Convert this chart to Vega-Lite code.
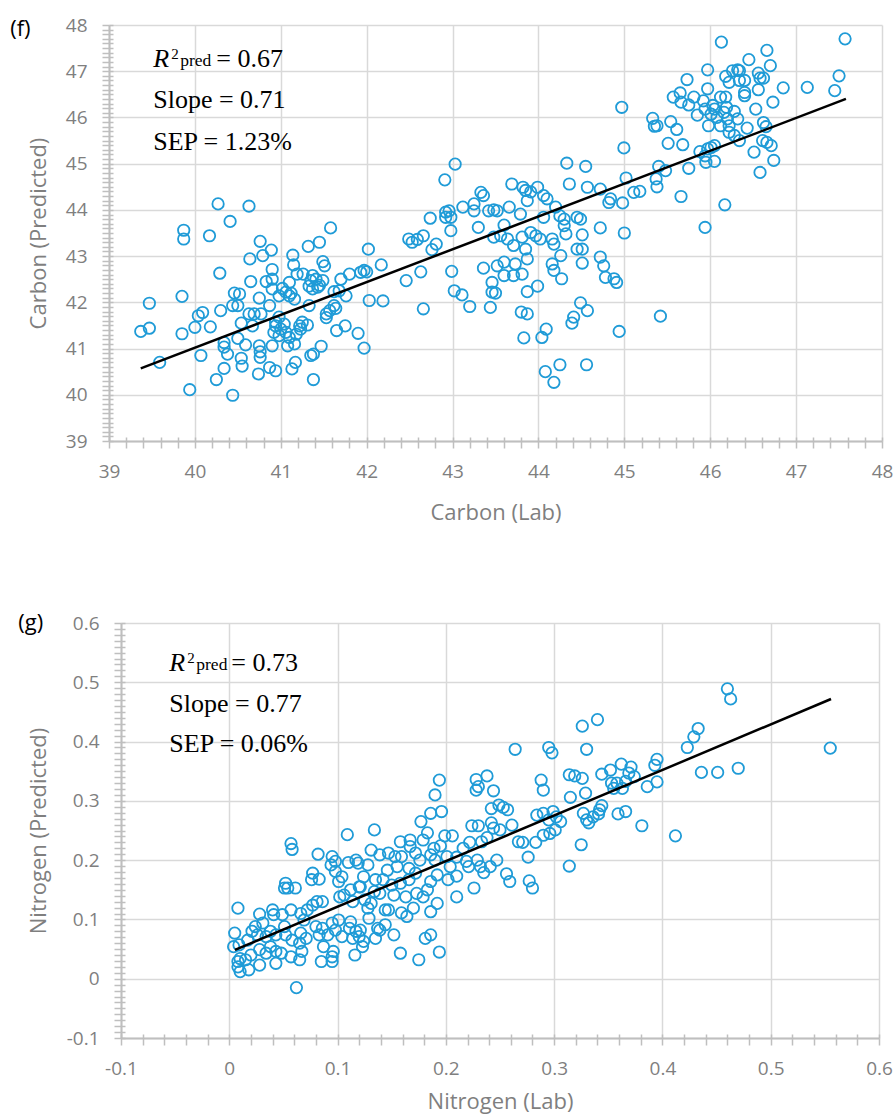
{
  "$schema": "https://vega.github.io/schema/vega-lite/v6.json",
  "padding": {"left": 10, "top": 16, "right": 0, "bottom": 12},
  "spacing": 89,
  "config": {
    "view": {"stroke": null},
    "axis": {
      "labelFont": "Open Sans", "labelColor": "#7f7f7f", "labelFontSize": 19,
      "titleFont": "Open Sans", "titleColor": "#7f7f7f", "titleFontSize": 22, "titleFontWeight": "normal",
      "gridColor": "#d9d9d9", "gridWidth": 1.5,
      "domainColor": "#bfbfbf", "domainWidth": 2,
      "tickColor": "#bfbfbf", "tickWidth": 1.5,
      "labelFlush": false, "labelOverlap": false
    }
  },
  "datasets": {
    "carbon": [
      {"lab":40.27,"pred":44.13},{"lab":40.63,"pred":44.08},{"lab":40.41,"pred":43.75},{"lab":39.87,"pred":43.56},{"lab":39.87,"pred":43.37},{"lab":40.17,"pred":43.44},{"lab":41.58,"pred":43.61},{"lab":40.76,"pred":43.32},{"lab":40.89,"pred":43.13},{"lab":40.79,"pred":43.01},{"lab":40.64,"pred":42.94},{"lab":41.32,"pred":43.21},{"lab":41.45,"pred":43.3},{"lab":41.14,"pred":43.02},{"lab":41.15,"pred":42.81},{"lab":41.19,"pred":42.61},{"lab":40.9,"pred":42.71},{"lab":40.9,"pred":42.5},{"lab":40.83,"pred":42.45},{"lab":40.65,"pred":42.45},{"lab":40.29,"pred":42.63},{"lab":41.49,"pred":42.88},{"lab":41.51,"pred":42.79},{"lab":41.41,"pred":42.5},{"lab":41.37,"pred":42.58},{"lab":41.45,"pred":42.37},{"lab":41.33,"pred":42.35},{"lab":41.1,"pred":42.43},{"lab":41.02,"pred":42.3},{"lab":41.1,"pred":42.14},{"lab":40.98,"pred":42.14},{"lab":41.06,"pred":42.22},{"lab":40.9,"pred":42.29},{"lab":40.75,"pred":42.09},{"lab":40.87,"pred":41.93},{"lab":40.46,"pred":42.2},{"lab":40.52,"pred":42.18},{"lab":40.44,"pred":41.93},{"lab":40.5,"pred":41.93},{"lab":40.3,"pred":41.82},{"lab":40.04,"pred":41.71},{"lab":40.09,"pred":41.78},{"lab":40.0,"pred":41.46},{"lab":40.18,"pred":41.47},{"lab":39.85,"pred":42.13},{"lab":39.85,"pred":41.32},{"lab":39.47,"pred":41.98},{"lab":39.37,"pred":41.37},{"lab":39.47,"pred":41.44},{"lab":39.59,"pred":40.7},{"lab":39.94,"pred":40.11},{"lab":40.44,"pred":39.99},{"lab":40.25,"pred":40.33},{"lab":40.07,"pred":40.85},{"lab":40.34,"pred":40.57},{"lab":40.55,"pred":40.62},{"lab":40.54,"pred":40.79},{"lab":40.34,"pred":41.13},{"lab":40.34,"pred":41.03},{"lab":40.38,"pred":40.88},{"lab":40.5,"pred":41.22},{"lab":40.59,"pred":41.08},{"lab":40.54,"pred":41.55},{"lab":40.63,"pred":41.75},{"lab":40.69,"pred":41.75},{"lab":40.77,"pred":41.75},{"lab":40.67,"pred":41.49},{"lab":40.75,"pred":41.06},{"lab":40.76,"pred":40.93},{"lab":40.76,"pred":40.81},{"lab":40.74,"pred":40.45},{"lab":40.87,"pred":40.59},{"lab":40.94,"pred":40.52},{"lab":40.9,"pred":41.06},{"lab":40.94,"pred":41.49},{"lab":40.92,"pred":41.35},{"lab":41.0,"pred":41.42},{"lab":40.98,"pred":41.28},{"lab":41.04,"pred":41.53},{"lab":41.06,"pred":41.35},{"lab":41.1,"pred":41.24},{"lab":41.08,"pred":41.06},{"lab":41.16,"pred":41.1},{"lab":41.18,"pred":41.31},{"lab":41.22,"pred":41.49},{"lab":41.23,"pred":41.42},{"lab":41.25,"pred":41.57},{"lab":41.31,"pred":41.51},{"lab":41.33,"pred":41.93},{"lab":41.13,"pred":40.56},{"lab":41.17,"pred":40.7},{"lab":41.35,"pred":40.85},{"lab":41.38,"pred":40.88},{"lab":41.38,"pred":40.33},{"lab":41.47,"pred":41.05},{"lab":41.53,"pred":41.75},{"lab":41.53,"pred":41.67},{"lab":41.57,"pred":41.82},{"lab":41.62,"pred":41.93},{"lab":41.64,"pred":41.87},{"lab":41.65,"pred":41.39},{"lab":41.75,"pred":41.49},{"lab":41.9,"pred":41.33},{"lab":41.97,"pred":41.01},{"lab":41.62,"pred":42.23},{"lab":41.7,"pred":42.5},{"lab":41.68,"pred":42.25},{"lab":41.76,"pred":42.14},{"lab":41.8,"pred":42.61},{"lab":41.93,"pred":42.65},{"lab":41.97,"pred":42.69},{"lab":42.02,"pred":43.15},{"lab":42.03,"pred":42.04},{"lab":41.35,"pred":42.47},{"lab":41.37,"pred":42.29},{"lab":41.43,"pred":42.33},{"lab":41.49,"pred":42.47},{"lab":41.26,"pred":42.61},{"lab":41.12,"pred":42.2},{"lab":41.16,"pred":42.07},{"lab":40.94,"pred":41.57},{"lab":40.98,"pred":41.68},
      {"lab":43.03,"pred":44.99},{"lab":42.91,"pred":44.65},{"lab":42.74,"pred":43.82},{"lab":42.92,"pred":43.95},{"lab":42.96,"pred":43.98},{"lab":42.98,"pred":43.84},{"lab":42.92,"pred":43.84},{"lab":42.98,"pred":43.55},{"lab":42.49,"pred":43.37},{"lab":42.53,"pred":43.3},{"lab":42.59,"pred":43.36},{"lab":42.66,"pred":43.44},{"lab":42.81,"pred":43.26},{"lab":42.76,"pred":43.14},{"lab":42.17,"pred":42.81},{"lab":42.0,"pred":42.66},{"lab":42.19,"pred":42.03},{"lab":42.46,"pred":42.47},{"lab":42.63,"pred":42.66},{"lab":42.66,"pred":41.86},{"lab":42.99,"pred":42.67},{"lab":43.02,"pred":42.25},{"lab":43.11,"pred":42.16},{"lab":43.2,"pred":41.91},{"lab":43.12,"pred":44.06},{"lab":43.25,"pred":44.13},{"lab":43.25,"pred":43.98},{"lab":43.33,"pred":44.38},{"lab":43.36,"pred":44.31},{"lab":43.42,"pred":43.98},{"lab":43.48,"pred":44.0},{"lab":43.52,"pred":43.98},{"lab":43.66,"pred":44.06},{"lab":43.69,"pred":44.56},{"lab":43.82,"pred":44.49},{"lab":43.85,"pred":44.42},{"lab":43.91,"pred":44.39},{"lab":43.99,"pred":44.49},{"lab":44.06,"pred":44.31},{"lab":44.1,"pred":44.24},{"lab":44.33,"pred":45.01},{"lab":44.36,"pred":44.56},{"lab":44.55,"pred":44.94},{"lab":44.57,"pred":44.49},{"lab":43.87,"pred":44.2},{"lab":43.79,"pred":43.91},{"lab":44.06,"pred":43.84},{"lab":44.2,"pred":44.06},{"lab":44.25,"pred":43.87},{"lab":44.3,"pred":43.8},{"lab":44.45,"pred":43.84},{"lab":44.49,"pred":43.8},{"lab":44.3,"pred":43.66},{"lab":44.32,"pred":43.48},{"lab":43.3,"pred":43.62},{"lab":43.6,"pred":43.67},{"lab":43.48,"pred":43.41},{"lab":43.56,"pred":43.44},{"lab":43.64,"pred":43.37},{"lab":43.71,"pred":43.23},{"lab":43.81,"pred":43.41},{"lab":43.91,"pred":43.51},{"lab":43.97,"pred":43.44},{"lab":44.02,"pred":43.37},{"lab":44.16,"pred":43.37},{"lab":44.18,"pred":43.26},{"lab":44.26,"pred":43.01},{"lab":43.85,"pred":43.15},{"lab":43.87,"pred":42.94},{"lab":43.36,"pred":42.74},{"lab":43.52,"pred":42.79},{"lab":43.6,"pred":42.87},{"lab":43.73,"pred":42.83},{"lab":43.71,"pred":42.58},{"lab":43.81,"pred":42.61},{"lab":43.6,"pred":42.58},{"lab":43.46,"pred":42.43},{"lab":43.46,"pred":42.22},{"lab":43.5,"pred":42.2},{"lab":43.44,"pred":41.89},{"lab":43.87,"pred":42.23},{"lab":43.99,"pred":42.35},{"lab":44.16,"pred":42.83},{"lab":44.18,"pred":42.69},{"lab":44.27,"pred":42.51},{"lab":44.51,"pred":42.85},{"lab":44.51,"pred":43.15},{"lab":44.45,"pred":43.15},{"lab":44.51,"pred":43.46},{"lab":43.8,"pred":41.79},{"lab":43.87,"pred":41.75},{"lab":43.83,"pred":41.23},{"lab":44.09,"pred":41.42},{"lab":44.04,"pred":41.24},{"lab":44.49,"pred":41.99},{"lab":44.39,"pred":41.55},{"lab":44.41,"pred":41.68},{"lab":44.08,"pred":40.5},{"lab":44.18,"pred":40.27},{"lab":44.25,"pred":40.65},{"lab":44.56,"pred":40.65},{"lab":44.57,"pred":41.82},
      {"lab":44.97,"pred":46.22},{"lab":44.995,"pred":45.34},{"lab":45.02,"pred":44.69},{"lab":45.11,"pred":44.38},{"lab":45.18,"pred":44.4},{"lab":44.98,"pred":44.15},{"lab":45.0,"pred":43.5},{"lab":44.82,"pred":44.16},{"lab":44.84,"pred":44.24},{"lab":44.72,"pred":44.45},{"lab":44.72,"pred":43.61},{"lab":44.72,"pred":42.98},{"lab":44.76,"pred":42.79},{"lab":44.78,"pred":42.54},{"lab":44.88,"pred":42.51},{"lab":44.91,"pred":42.43},{"lab":44.94,"pred":41.37},{"lab":45.42,"pred":41.7},{"lab":45.38,"pred":44.5},{"lab":45.37,"pred":44.67},{"lab":45.4,"pred":44.94},{"lab":45.48,"pred":44.85},{"lab":45.66,"pred":44.29},{"lab":45.75,"pred":44.9},{"lab":45.51,"pred":45.44},{"lab":45.68,"pred":45.41},{"lab":45.33,"pred":45.98},{"lab":45.35,"pred":45.81},{"lab":45.38,"pred":45.82},{"lab":45.54,"pred":45.91},{"lab":45.61,"pred":45.74},{"lab":45.57,"pred":46.44},{"lab":45.65,"pred":46.53},{"lab":45.73,"pred":46.82},{"lab":45.66,"pred":46.33},{"lab":45.75,"pred":46.27},{"lab":45.81,"pred":46.44},{"lab":45.85,"pred":46.05},{"lab":45.88,"pred":45.26},{"lab":45.94,"pred":43.62},{"lab":45.92,"pred":46.36},{"lab":45.97,"pred":46.62},{"lab":45.97,"pred":47.03},{"lab":45.94,"pred":46.18},{"lab":45.98,"pred":45.82},{"lab":46.01,"pred":46.07},{"lab":46.05,"pred":46.18},{"lab":46.08,"pred":46.0},{"lab":46.03,"pred":46.26},{"lab":45.97,"pred":45.32},{"lab":46.01,"pred":45.35},{"lab":45.95,"pred":45.03},{"lab":46.05,"pred":45.05},{"lab":45.94,"pred":45.17},{"lab":46.05,"pred":45.39},{"lab":46.13,"pred":47.63},{"lab":46.17,"pred":44.11},{"lab":46.18,"pred":46.89},{"lab":46.22,"pred":46.76},{"lab":46.18,"pred":46.44},{"lab":46.19,"pred":46.22},{"lab":46.16,"pred":46.11},{"lab":46.2,"pred":45.97},{"lab":46.22,"pred":45.82},{"lab":46.22,"pred":45.68},{"lab":46.28,"pred":46.13},{"lab":46.26,"pred":47.01},{"lab":46.32,"pred":47.03},{"lab":46.34,"pred":47.01},{"lab":46.34,"pred":46.8},{"lab":46.4,"pred":46.8},{"lab":46.4,"pred":46.47},{"lab":46.4,"pred":46.54},{"lab":46.34,"pred":45.5},{"lab":46.43,"pred":45.77},{"lab":46.45,"pred":47.25},{"lab":46.53,"pred":46.18},{"lab":46.56,"pred":46.96},{"lab":46.58,"pred":46.85},{"lab":46.62,"pred":46.85},{"lab":46.56,"pred":46.6},{"lab":46.66,"pred":47.45},{"lab":46.7,"pred":47.12},{"lab":46.73,"pred":46.33},{"lab":46.62,"pred":45.89},{"lab":46.65,"pred":45.8},{"lab":46.61,"pred":45.5},{"lab":46.66,"pred":45.46},{"lab":46.71,"pred":45.39},{"lab":46.51,"pred":45.25},{"lab":46.74,"pred":45.07},{"lab":46.58,"pred":44.81},{"lab":46.85,"pred":46.64},{"lab":47.13,"pred":46.65},{"lab":47.45,"pred":46.58},{"lab":47.5,"pred":46.9},{"lab":47.57,"pred":47.7},{"lab":46.32,"pred":45.97},{"lab":46.12,"pred":46.44},{"lab":46.12,"pred":45.82},{"lab":46.28,"pred":45.61}
    ],
    "fitC": [{"lab":39.37,"pred":40.57},{"lab":47.58,"pred":46.4}],
    "nitrogen": [
      {"lab":0.109,"pred":0.243},{"lab":0.134,"pred":0.251},{"lab":0.057,"pred":0.228},{"lab":0.058,"pred":0.218},{"lab":0.082,"pred":0.21},{"lab":0.095,"pred":0.206},{"lab":0.098,"pred":0.198},{"lab":0.094,"pred":0.192},{"lab":0.11,"pred":0.196},{"lab":0.117,"pred":0.2},{"lab":0.119,"pred":0.195},{"lab":0.131,"pred":0.217},{"lab":0.128,"pred":0.192},{"lab":0.098,"pred":0.181},{"lab":0.101,"pred":0.164},{"lab":0.077,"pred":0.178},{"lab":0.076,"pred":0.167},{"lab":0.083,"pred":0.168},{"lab":0.052,"pred":0.161},{"lab":0.054,"pred":0.153},{"lab":0.051,"pred":0.153},{"lab":0.061,"pred":0.153},{"lab":0.106,"pred":0.141},{"lab":0.112,"pred":0.15},{"lab":0.12,"pred":0.155},{"lab":0.114,"pred":0.13},{"lab":0.125,"pred":0.133},{"lab":0.131,"pred":0.127},{"lab":0.128,"pred":0.119},{"lab":0.135,"pred":0.167},{"lab":0.134,"pred":0.147},{"lab":0.008,"pred":0.119},{"lab":0.005,"pred":0.077},{"lab":0.028,"pred":0.109},{"lab":0.04,"pred":0.116},{"lab":0.041,"pred":0.108},{"lab":0.057,"pred":0.116},{"lab":0.066,"pred":0.11},{"lab":0.072,"pred":0.116},{"lab":0.081,"pred":0.13},{"lab":0.086,"pred":0.13},{"lab":0.077,"pred":0.124},{"lab":0.069,"pred":0.099},{"lab":0.049,"pred":0.108},{"lab":0.024,"pred":0.088},{"lab":0.031,"pred":0.094},{"lab":0.021,"pred":0.08},{"lab":0.017,"pred":0.065},{"lab":0.009,"pred":0.057},{"lab":0.004,"pred":0.054},{"lab":0.026,"pred":0.074},{"lab":0.034,"pred":0.071},{"lab":0.038,"pred":0.08},{"lab":0.043,"pred":0.074},{"lab":0.051,"pred":0.088},{"lab":0.052,"pred":0.074},{"lab":0.058,"pred":0.065},{"lab":0.066,"pred":0.077},{"lab":0.071,"pred":0.068},{"lab":0.065,"pred":0.06},{"lab":0.08,"pred":0.088},{"lab":0.086,"pred":0.085},{"lab":0.095,"pred":0.094},{"lab":0.091,"pred":0.074},{"lab":0.083,"pred":0.074},{"lab":0.087,"pred":0.054},{"lab":0.098,"pred":0.082},{"lab":0.104,"pred":0.071},{"lab":0.111,"pred":0.085},{"lab":0.117,"pred":0.08},{"lab":0.114,"pred":0.068},{"lab":0.12,"pred":0.071},{"lab":0.124,"pred":0.063},{"lab":0.123,"pred":0.054},{"lab":0.116,"pred":0.04},{"lab":0.135,"pred":0.068},{"lab":0.137,"pred":0.085},{"lab":0.028,"pred":0.049},{"lab":0.034,"pred":0.043},{"lab":0.038,"pred":0.054},{"lab":0.043,"pred":0.046},{"lab":0.048,"pred":0.043},{"lab":0.043,"pred":0.026},{"lab":0.028,"pred":0.023},{"lab":0.02,"pred":0.04},{"lab":0.018,"pred":0.015},{"lab":0.01,"pred":0.012},{"lab":0.008,"pred":0.02},{"lab":0.008,"pred":0.029},{"lab":0.01,"pred":0.034},{"lab":0.015,"pred":0.032},{"lab":0.057,"pred":0.037},{"lab":0.065,"pred":0.032},{"lab":0.067,"pred":0.046},{"lab":0.085,"pred":0.029},{"lab":0.095,"pred":0.029},{"lab":0.095,"pred":0.037},{"lab":0.096,"pred":0.046},{"lab":0.062,"pred":-0.015},
      {"lab":0.326,"pred":0.426},{"lab":0.264,"pred":0.387},{"lab":0.295,"pred":0.39},{"lab":0.298,"pred":0.381},{"lab":0.33,"pred":0.387},{"lab":0.194,"pred":0.335},{"lab":0.19,"pred":0.31},{"lab":0.228,"pred":0.336},{"lab":0.238,"pred":0.342},{"lab":0.228,"pred":0.318},{"lab":0.23,"pred":0.324},{"lab":0.244,"pred":0.317},{"lab":0.288,"pred":0.335},{"lab":0.29,"pred":0.318},{"lab":0.314,"pred":0.344},{"lab":0.319,"pred":0.342},{"lab":0.326,"pred":0.338},{"lab":0.329,"pred":0.313},{"lab":0.315,"pred":0.306},{"lab":0.242,"pred":0.287},{"lab":0.249,"pred":0.293},{"lab":0.253,"pred":0.289},{"lab":0.257,"pred":0.285},{"lab":0.177,"pred":0.265},{"lab":0.186,"pred":0.279},{"lab":0.196,"pred":0.282},{"lab":0.183,"pred":0.246},{"lab":0.224,"pred":0.258},{"lab":0.23,"pred":0.258},{"lab":0.242,"pred":0.263},{"lab":0.244,"pred":0.254},{"lab":0.25,"pred":0.251},{"lab":0.261,"pred":0.259},{"lab":0.238,"pred":0.238},{"lab":0.233,"pred":0.231},{"lab":0.267,"pred":0.231},{"lab":0.271,"pred":0.23},{"lab":0.283,"pred":0.23},{"lab":0.284,"pred":0.276},{"lab":0.29,"pred":0.279},{"lab":0.295,"pred":0.268},{"lab":0.299,"pred":0.282},{"lab":0.302,"pred":0.273},{"lab":0.306,"pred":0.265},{"lab":0.296,"pred":0.245},{"lab":0.301,"pred":0.251},{"lab":0.29,"pred":0.242},{"lab":0.325,"pred":0.226},{"lab":0.327,"pred":0.279},{"lab":0.33,"pred":0.268},{"lab":0.276,"pred":0.205},{"lab":0.314,"pred":0.19},{"lab":0.256,"pred":0.177},{"lab":0.259,"pred":0.164},{"lab":0.277,"pred":0.165},{"lab":0.28,"pred":0.153},{"lab":0.199,"pred":0.241},{"lab":0.206,"pred":0.241},{"lab":0.189,"pred":0.22},{"lab":0.195,"pred":0.224},{"lab":0.216,"pred":0.22},{"lab":0.222,"pred":0.23},{"lab":0.21,"pred":0.205},{"lab":0.219,"pred":0.198},{"lab":0.229,"pred":0.2},{"lab":0.247,"pred":0.2},{"lab":0.241,"pred":0.189},{"lab":0.235,"pred":0.179},{"lab":0.226,"pred":0.153},{"lab":0.21,"pred":0.138},{"lab":0.201,"pred":0.206},{"lab":0.204,"pred":0.189},{"lab":0.21,"pred":0.173},{"lab":0.202,"pred":0.167},{"lab":0.192,"pred":0.175},{"lab":0.186,"pred":0.164},{"lab":0.183,"pred":0.15},{"lab":0.179,"pred":0.138},{"lab":0.192,"pred":0.127},{"lab":0.186,"pred":0.113},{"lab":0.17,"pred":0.119},{"lab":0.164,"pred":0.105},{"lab":0.159,"pred":0.111},{"lab":0.186,"pred":0.209},{"lab":0.19,"pred":0.2},{"lab":0.176,"pred":0.2},{"lab":0.172,"pred":0.212},{"lab":0.167,"pred":0.234},{"lab":0.158,"pred":0.231},{"lab":0.159,"pred":0.206},{"lab":0.153,"pred":0.206},{"lab":0.147,"pred":0.212},{"lab":0.139,"pred":0.209},{"lab":0.146,"pred":0.183},{"lab":0.155,"pred":0.189},{"lab":0.166,"pred":0.186},{"lab":0.172,"pred":0.178},{"lab":0.166,"pred":0.167},{"lab":0.158,"pred":0.161},{"lab":0.15,"pred":0.158},{"lab":0.142,"pred":0.167},{"lab":0.139,"pred":0.144},{"lab":0.152,"pred":0.141},{"lab":0.163,"pred":0.138},{"lab":0.173,"pred":0.144},{"lab":0.144,"pred":0.116},{"lab":0.147,"pred":0.116},{"lab":0.139,"pred":0.082},{"lab":0.144,"pred":0.091},{"lab":0.186,"pred":0.074},{"lab":0.181,"pred":0.068},{"lab":0.152,"pred":0.074},{"lab":0.167,"pred":0.223},{"lab":0.179,"pred":0.234},{"lab":0.221,"pred":0.189},{"lab":0.232,"pred":0.189},{"lab":0.129,"pred":0.102},{"lab":0.112,"pred":0.096},{"lab":0.101,"pred":0.099},{"lab":0.121,"pred":0.082},{"lab":0.104,"pred":0.172},{"lab":0.124,"pred":0.172},{"lab":0.121,"pred":0.155},{"lab":0.102,"pred":0.138},{"lab":0.158,"pred":0.043},{"lab":0.175,"pred":0.032},{"lab":0.194,"pred":0.045},
      {"lab":0.46,"pred":0.489},{"lab":0.463,"pred":0.472},{"lab":0.34,"pred":0.437},{"lab":0.433,"pred":0.422},{"lab":0.429,"pred":0.408},{"lab":0.423,"pred":0.39},{"lab":0.555,"pred":0.389},{"lab":0.395,"pred":0.37},{"lab":0.393,"pred":0.36},{"lab":0.395,"pred":0.332},{"lab":0.386,"pred":0.324},{"lab":0.362,"pred":0.362},{"lab":0.371,"pred":0.357},{"lab":0.352,"pred":0.352},{"lab":0.344,"pred":0.345},{"lab":0.374,"pred":0.341},{"lab":0.369,"pred":0.347},{"lab":0.366,"pred":0.333},{"lab":0.363,"pred":0.321},{"lab":0.358,"pred":0.33},{"lab":0.355,"pred":0.321},{"lab":0.353,"pred":0.33},{"lab":0.436,"pred":0.348},{"lab":0.451,"pred":0.348},{"lab":0.47,"pred":0.355},{"lab":0.344,"pred":0.292},{"lab":0.342,"pred":0.285},{"lab":0.341,"pred":0.278},{"lab":0.336,"pred":0.273},{"lab":0.332,"pred":0.263},{"lab":0.359,"pred":0.278},{"lab":0.366,"pred":0.282},{"lab":0.381,"pred":0.258},{"lab":0.412,"pred":0.241}
    ],
    "fitN": [{"lab":0.0052,"pred":0.0486},{"lab":0.5557,"pred":0.4718}]
  },
  "vconcat": [
    {
      "width": 773,
      "height": 416,
      "resolve": {"axis": {"x": "independent", "y": "independent"}},
      "layer": [
        {
          "data": {"name": "carbon"},
          "mark": {"type": "point", "shape": "circle", "filled": false, "stroke": "#1F9BD7", "strokeWidth": 1.8, "size": 130, "opacity": 1},
          "encoding": {
            "x": {"field": "lab", "type": "quantitative", "scale": {"domain": [39, 48], "nice": false, "zero": false},
              "axis": {"orient": "bottom", "values": [39,40,41,42,43,44,45,46,47,48], "grid": true, "ticks": false, "labelPadding": 21, "title": "Carbon (Lab)", "titlePadding": 21}},
            "y": {"field": "pred", "type": "quantitative", "scale": {"domain": [39, 48], "nice": false, "zero": false},
              "axis": {"orient": "left", "values": [39,40,41,42,43,44,45,46,47,48], "grid": true, "ticks": false, "labelPadding": 22, "title": "Carbon (Predicted)", "titlePadding": 15}}
          }
        },
        {
          "data": {"name": "fitC"},
          "mark": {"type": "line", "color": "#000000", "strokeWidth": 2.5},
          "encoding": {
            "x": {"field": "lab", "type": "quantitative",
              "axis": {"orient": "bottom", "values": [39,39.2,39.4,39.6,39.8,40,40.2,40.4,40.6,40.8,41,41.2,41.4,41.6,41.8,42,42.2,42.4,42.6,42.8,43,43.2,43.4,43.6,43.8,44,44.2,44.4,44.6,44.8,45,45.2,45.4,45.6,45.8,46,46.2,46.4,46.6,46.8,47,47.2,47.4,47.6,47.8,48], "grid": false, "domain": false, "labels": false, "ticks": true, "tickSize": 7, "title": null}},
            "y": {"field": "pred", "type": "quantitative",
              "axis": {"orient": "left", "values": [39,39.1,39.2,39.3,39.4,39.5,39.6,39.7,39.8,39.9,40,40.1,40.2,40.3,40.4,40.5,40.6,40.7,40.8,40.9,41,41.1,41.2,41.3,41.4,41.5,41.6,41.7,41.8,41.9,42,42.1,42.2,42.3,42.4,42.5,42.6,42.7,42.8,42.9,43,43.1,43.2,43.3,43.4,43.5,43.6,43.7,43.8,43.9,44,44.1,44.2,44.3,44.4,44.5,44.6,44.7,44.8,44.9,45,45.1,45.2,45.3,45.4,45.5,45.6,45.7,45.8,45.9,46,46.1,46.2,46.3,46.4,46.5,46.6,46.7,46.8,46.9,47,47.1,47.2,47.3,47.4,47.5,47.6,47.7,47.8,47.9,48], "grid": false, "domain": false, "labels": false, "ticks": true, "tickSize": 7, "title": null}}
          }
        },
        {
          "data": {"values": [{}]},
          "mark": {"type": "text", "text": "(f)", "font": "Open Sans", "fontSize": 22, "color": "#000000", "align": "left", "baseline": "middle"},
          "encoding": {
            "x": {"datum": 37.85, "type": "quantitative",
              "axis": {"orient": "bottom", "values": [39,39.2,39.4,39.6,39.8,40,40.2,40.4,40.6,40.8,41,41.2,41.4,41.6,41.8,42,42.2,42.4,42.6,42.8,43,43.2,43.4,43.6,43.8,44,44.2,44.4,44.6,44.8,45,45.2,45.4,45.6,45.8,46,46.2,46.4,46.6,46.8,47,47.2,47.4,47.6,47.8,48], "grid": false, "domain": false, "labels": false, "ticks": true, "tickSize": -4, "title": null}},
            "y": {"datum": 47.91, "type": "quantitative",
              "axis": {"orient": "left", "values": [39,39.1,39.2,39.3,39.4,39.5,39.6,39.7,39.8,39.9,40,40.1,40.2,40.3,40.4,40.5,40.6,40.7,40.8,40.9,41,41.1,41.2,41.3,41.4,41.5,41.6,41.7,41.8,41.9,42,42.1,42.2,42.3,42.4,42.5,42.6,42.7,42.8,42.9,43,43.1,43.2,43.3,43.4,43.5,43.6,43.7,43.8,43.9,44,44.1,44.2,44.3,44.4,44.5,44.6,44.7,44.8,44.9,45,45.1,45.2,45.3,45.4,45.5,45.6,45.7,45.8,45.9,46,46.1,46.2,46.3,46.4,46.5,46.6,46.7,46.8,46.9,47,47.1,47.2,47.3,47.4,47.5,47.6,47.7,47.8,47.9,48], "grid": false, "domain": false, "labels": false, "ticks": true, "tickSize": -4, "title": null}}
          }
        },
        {
          "data": {"values": [{}]},
          "mark": {"type": "text", "text": "R", "font": "Liberation Serif", "fontStyle": "italic", "fontSize": 26, "color": "#000000", "align": "left", "baseline": "alphabetic"},
          "encoding": {"x": {"datum": 39.515, "type": "quantitative", "axis": null}, "y": {"datum": 47.086, "type": "quantitative", "axis": null}}
        },
        {
          "data": {"values": [{}]},
          "mark": {"type": "text", "text": "2", "font": "Liberation Serif", "fontSize": 15, "color": "#000000", "align": "left", "baseline": "alphabetic", "dx": 18, "dy": -8},
          "encoding": {"x": {"datum": 39.515, "type": "quantitative", "axis": null}, "y": {"datum": 47.086, "type": "quantitative", "axis": null}}
        },
        {
          "data": {"values": [{}]},
          "mark": {"type": "text", "text": "pred", "font": "Liberation Serif", "fontSize": 17.5, "color": "#000000", "align": "left", "baseline": "alphabetic", "dx": 27, "dy": -1},
          "encoding": {"x": {"datum": 39.515, "type": "quantitative", "axis": null}, "y": {"datum": 47.086, "type": "quantitative", "axis": null}}
        },
        {
          "data": {"values": [{}]},
          "mark": {"type": "text", "text": "= 0.67", "font": "Liberation Serif", "fontSize": 26, "color": "#000000", "align": "left", "baseline": "alphabetic", "dx": 63},
          "encoding": {"x": {"datum": 39.515, "type": "quantitative", "axis": null}, "y": {"datum": 47.086, "type": "quantitative", "axis": null}}
        },
        {
          "data": {"values": [{}]},
          "mark": {"type": "text", "text": "Slope = 0.71", "font": "Liberation Serif", "fontSize": 26, "color": "#000000", "align": "left", "baseline": "alphabetic"},
          "encoding": {"x": {"datum": 39.515, "type": "quantitative", "axis": null}, "y": {"datum": 46.2, "type": "quantitative", "axis": null}}
        },
        {
          "data": {"values": [{}]},
          "mark": {"type": "text", "text": "SEP = 1.23%", "font": "Liberation Serif", "fontSize": 26, "color": "#000000", "align": "left", "baseline": "alphabetic"},
          "encoding": {"x": {"datum": 39.515, "type": "quantitative", "axis": null}, "y": {"datum": 45.305, "type": "quantitative", "axis": null}}
        }
      ]
    },
    {
      "width": 770,
      "height": 415,
      "resolve": {"axis": {"x": "independent", "y": "independent"}},
      "layer": [
        {
          "data": {"name": "nitrogen"},
          "mark": {"type": "point", "shape": "circle", "filled": false, "stroke": "#1F9BD7", "strokeWidth": 1.8, "size": 130, "opacity": 1},
          "encoding": {
            "x": {"field": "lab", "type": "quantitative", "scale": {"domain": [-0.1, 0.6], "range": [12, 770], "nice": false, "zero": false},
              "axis": {"orient": "bottom", "values": [-0.1,0,0.1,0.2,0.3,0.4,0.5,0.6], "format": "~g", "labelExpr": "replace(datum.label, '\u2212', '-')", "grid": true, "ticks": false, "labelPadding": 21, "title": "Nitrogen (Lab)", "titlePadding": 13}},
            "y": {"field": "pred", "type": "quantitative", "scale": {"domain": [-0.1, 0.6], "nice": false, "zero": false},
              "axis": {"orient": "left", "offset": -12, "values": [-0.1,0,0.1,0.2,0.3,0.4,0.5,0.6], "format": "~g", "labelExpr": "replace(datum.label, '\u2212', '-')", "grid": true, "ticks": false, "labelPadding": 22, "title": "Nitrogen (Predicted)", "titlePadding": 16}}
          }
        },
        {
          "data": {"name": "fitN"},
          "mark": {"type": "line", "color": "#000000", "strokeWidth": 2.5},
          "encoding": {
            "x": {"field": "lab", "type": "quantitative",
              "axis": {"orient": "bottom", "values": [-0.1,-0.08,-0.06,-0.04,-0.02,0,0.02,0.04,0.06,0.08,0.1,0.12,0.14,0.16,0.18,0.2,0.22,0.24,0.26,0.28,0.3,0.32,0.34,0.36,0.38,0.4,0.42,0.44,0.46,0.48,0.5,0.52,0.54,0.56,0.58,0.6], "grid": false, "domain": false, "labels": false, "ticks": true, "tickSize": 7, "title": null}},
            "y": {"field": "pred", "type": "quantitative",
              "axis": {"orient": "left", "offset": -12, "values": [-0.1,-0.09,-0.08,-0.07,-0.06,-0.05,-0.04,-0.03,-0.02,-0.01,0,0.01,0.02,0.03,0.04,0.05,0.06,0.07,0.08,0.09,0.1,0.11,0.12,0.13,0.14,0.15,0.16,0.17,0.18,0.19,0.2,0.21,0.22,0.23,0.24,0.25,0.26,0.27,0.28,0.29,0.3,0.31,0.32,0.33,0.34,0.35,0.36,0.37,0.38,0.39,0.4,0.41,0.42,0.43,0.44,0.45,0.46,0.47,0.48,0.49,0.5,0.51,0.52,0.53,0.54,0.55,0.56,0.57,0.58,0.59,0.6], "grid": false, "domain": false, "labels": false, "ticks": true, "tickSize": 7, "title": null}}
          }
        },
        {
          "data": {"values": [{}]},
          "mark": {"type": "text", "text": "(g)", "font": "Open Sans", "fontSize": 22, "color": "#000000", "align": "left", "baseline": "middle"},
          "encoding": {
            "x": {"datum": -0.1948, "type": "quantitative",
              "axis": {"orient": "bottom", "values": [-0.1,-0.08,-0.06,-0.04,-0.02,0,0.02,0.04,0.06,0.08,0.1,0.12,0.14,0.16,0.18,0.2,0.22,0.24,0.26,0.28,0.3,0.32,0.34,0.36,0.38,0.4,0.42,0.44,0.46,0.48,0.5,0.52,0.54,0.56,0.58,0.6], "grid": false, "domain": false, "labels": false, "ticks": true, "tickSize": -4, "title": null}},
            "y": {"datum": 0.6, "type": "quantitative",
              "axis": {"orient": "left", "offset": -12, "values": [-0.1,-0.09,-0.08,-0.07,-0.06,-0.05,-0.04,-0.03,-0.02,-0.01,0,0.01,0.02,0.03,0.04,0.05,0.06,0.07,0.08,0.09,0.1,0.11,0.12,0.13,0.14,0.15,0.16,0.17,0.18,0.19,0.2,0.21,0.22,0.23,0.24,0.25,0.26,0.27,0.28,0.29,0.3,0.31,0.32,0.33,0.34,0.35,0.36,0.37,0.38,0.39,0.4,0.41,0.42,0.43,0.44,0.45,0.46,0.47,0.48,0.49,0.5,0.51,0.52,0.53,0.54,0.55,0.56,0.57,0.58,0.59,0.6], "grid": false, "domain": false, "labels": false, "ticks": true, "tickSize": -4, "title": null}}
          }
        },
        {
          "data": {"values": [{}]},
          "mark": {"type": "text", "text": "R", "font": "Liberation Serif", "fontStyle": "italic", "fontSize": 26, "color": "#000000", "align": "left", "baseline": "alphabetic"},
          "encoding": {"x": {"datum": -0.0554, "type": "quantitative", "axis": null}, "y": {"datum": 0.5196, "type": "quantitative", "axis": null}}
        },
        {
          "data": {"values": [{}]},
          "mark": {"type": "text", "text": "2", "font": "Liberation Serif", "fontSize": 15, "color": "#000000", "align": "left", "baseline": "alphabetic", "dx": 18, "dy": -8},
          "encoding": {"x": {"datum": -0.0554, "type": "quantitative", "axis": null}, "y": {"datum": 0.5196, "type": "quantitative", "axis": null}}
        },
        {
          "data": {"values": [{}]},
          "mark": {"type": "text", "text": "pred", "font": "Liberation Serif", "fontSize": 17.5, "color": "#000000", "align": "left", "baseline": "alphabetic", "dx": 27, "dy": -1},
          "encoding": {"x": {"datum": -0.0554, "type": "quantitative", "axis": null}, "y": {"datum": 0.5196, "type": "quantitative", "axis": null}}
        },
        {
          "data": {"values": [{}]},
          "mark": {"type": "text", "text": "= 0.73", "font": "Liberation Serif", "fontSize": 26, "color": "#000000", "align": "left", "baseline": "alphabetic", "dx": 62},
          "encoding": {"x": {"datum": -0.0554, "type": "quantitative", "axis": null}, "y": {"datum": 0.5196, "type": "quantitative", "axis": null}}
        },
        {
          "data": {"values": [{}]},
          "mark": {"type": "text", "text": "Slope = 0.77", "font": "Liberation Serif", "fontSize": 26, "color": "#000000", "align": "left", "baseline": "alphabetic"},
          "encoding": {"x": {"datum": -0.0554, "type": "quantitative", "axis": null}, "y": {"datum": 0.4504, "type": "quantitative", "axis": null}}
        },
        {
          "data": {"values": [{}]},
          "mark": {"type": "text", "text": "SEP = 0.06%", "font": "Liberation Serif", "fontSize": 26, "color": "#000000", "align": "left", "baseline": "alphabetic"},
          "encoding": {"x": {"datum": -0.0554, "type": "quantitative", "axis": null}, "y": {"datum": 0.382, "type": "quantitative", "axis": null}}
        }
      ]
    }
  ]
}
